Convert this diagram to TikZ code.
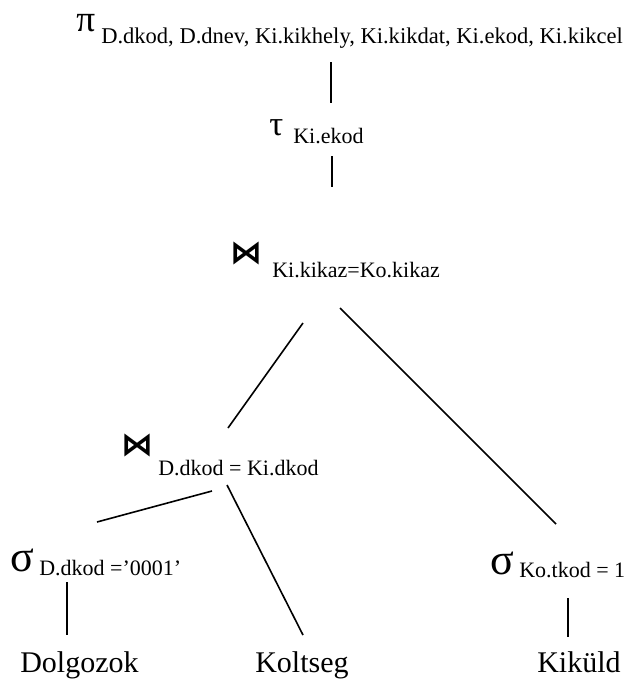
\documentclass[tikz,border=0pt]{standalone}
\usepackage{fontspec}
\setmainfont{Liberation Serif}
\newfontfamily\opsymfont{DejaVu Sans}

\tikzset{
  greek/.style={anchor=base west, inner sep=0pt, font=\fontsize{30}{30}\selectfont},
  subtxt/.style={anchor=base west, inner sep=0pt, font=\fontsize{16.5}{18}\selectfont},
  leaftxt/.style={anchor=base west, inner sep=0pt, font=\fontsize{22.5}{26}\selectfont},
  joinsym/.style={anchor=base west, inner sep=0pt, font=\opsymfont\bfseries\fontsize{24}{24}\selectfont},
  edge/.style={line width=1.2pt}
}

\begin{document}
\begin{tikzpicture}[x=0.75pt,y=0.75pt,yscale=-1,xscale=1]
\path[use as bounding box] (0,0) rectangle (630,679);

% Text Node: projection
\node[greek, font=\fontsize{28}{28}\selectfont] (proj) at (76,31) {π};
\node[subtxt, font=\fontsize{16.9}{18}\selectfont] (projsub) at (101,43) {D.dkod, D.dnev, Ki.kikhely, Ki.kikdat, Ki.ekod, Ki.kikcel};
% Text Node: sort
\node[greek, font=\fontsize{26}{26}\selectfont] (tau) at (269,135) {τ};
\node[subtxt] (tausub) at (293,143) {Ki.ekod};
% Text Node: upper join
\node[joinsym] (join1) at (230,263) {⋈};
\node[subtxt] (join1sub) at (272,277) {Ki.kikaz=Ko.kikaz};
% Text Node: lower join
\node[joinsym] (join2) at (121,455) {⋈};
\node[subtxt] (join2sub) at (158,475) {D.dkod = Ki.dkod};
% Text Node: selections
\node[greek, font=\fontsize{33}{33}\selectfont] (sel1) at (10,571) {σ};
\node[subtxt] (sel1sub) at (39,575) {D.dkod =’0001’};
\node[greek, font=\fontsize{33}{33}\selectfont] (sel2) at (490,574) {σ};
\node[subtxt] (sel2sub) at (519,577) {Ko.tkod = 1};
% Text Node: relations
\node[leaftxt] (dolg) at (20,672) {Dolgozok};
\node[leaftxt] (kolt) at (255,672) {Koltseg};
\node[leaftxt] (kikul) at (537,672) {Kiküld};

% ends of the connectors
\coordinate (proj-out) at (331,62);
\coordinate (tau-in) at (331,103);
\coordinate (tau-out) at (332,156);
\coordinate (join1-in) at (332,187);
\coordinate (join1-l) at (303,323);
\coordinate (join1-r) at (340,308);
\coordinate (join2-in) at (228,428);
\coordinate (join2-l) at (212,491);
\coordinate (join2-r) at (227,485);
\coordinate (sel1-in) at (97,522);
\coordinate (sel1-out) at (67,582);
\coordinate (sel2-in) at (556,524);
\coordinate (sel2-out) at (568,598);
\coordinate (dolg-in) at (67,635);
\coordinate (kolt-in) at (303,635);
\coordinate (kikul-in) at (568,637);

%Straight Lines
\draw[edge] (proj-out) -- (tau-in);
\draw[edge] (tau-out) -- (join1-in);
\draw[edge] (join1-l) -- (join2-in);
\draw[edge] (join1-r) -- (sel2-in);
\draw[edge] (join2-l) -- (sel1-in);
\draw[edge] (join2-r) -- (kolt-in);
\draw[edge] (sel1-out) -- (dolg-in);
\draw[edge] (sel2-out) -- (kikul-in);

\end{tikzpicture}
\end{document}
